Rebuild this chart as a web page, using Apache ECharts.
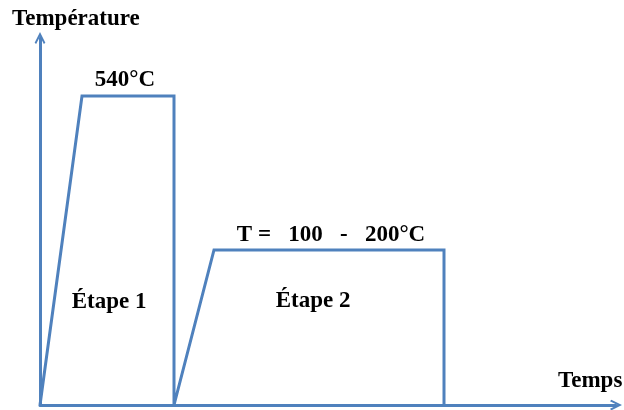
<!DOCTYPE html>
<html>
<head>
<meta charset="utf-8">
<script src="https://cdn.jsdelivr.net/npm/echarts@6/dist/echarts.min.js"></script>
<style>html,body{margin:0;padding:0;background:#fff}#c{width:624px;height:410px}</style>
</head>
<body>
<div id="c"></div>
<script>
// Schematic heat-treatment cycle (arbitrary units)
const time        = [0, 42, 134, 134, 174, 404, 404];
const temperature = [0, 309, 309, 0, 155, 155, 0];
const axisNames   = ['Température', 'Temps'];
const labels      = ['540°C', 'T =   100   -   200°C', 'Étape 1', 'Étape 2'];

const blue = '#4f81bd';
const font = 'bold 23px "Liberation Serif", "Times New Roman", serif';
const arrow = 'path://M0,10 L5,0 L10,10 L8.6,11.2 L5,4.2 L1.4,11.2 Z';

const chart = echarts.init(document.getElementById('c'), null, {renderer: 'canvas'});
chart.setOption({
  animation: false,
  grid: {left: 40, right: 8, top: 38, bottom: 5},
  xAxis: {
    type: 'value', min: 0, max: 576,
    splitLine: {show: false}, axisTick: {show: false}, axisLabel: {show: false},
    axisLine: {show: true, onZero: false, symbol: ['none', arrow], symbolSize: [13, 12],
      lineStyle: {color: blue, width: 3}}
  },
  yAxis: {
    type: 'value', min: 0, max: 367,
    splitLine: {show: false}, axisTick: {show: false}, axisLabel: {show: false},
    axisLine: {show: true, onZero: false, symbol: ['none', arrow], symbolSize: [13, 12],
      lineStyle: {color: blue, width: 3}}
  },
  series: [{
    type: 'line',
    data: time.map((t, i) => [t, temperature[i]]),
    showSymbol: false,
    lineStyle: {color: blue, width: 3, join: 'miter'},
    z: 3
  }],
  graphic: [
    {type: 'text', style: {text: axisNames[0], x: 12, y: 19, font: font, fill: '#000', align: 'left', verticalAlign: 'middle'}},
    {type: 'text', style: {text: axisNames[1], x: 558, y: 381, font: font, fill: '#000', align: 'left', verticalAlign: 'middle'}},
    {type: 'text', style: {text: labels[0], x: 125, y: 80, font: font, fill: '#000', align: 'center', verticalAlign: 'middle'}},
    {type: 'text', style: {text: labels[1], x: 331, y: 235, font: font, fill: '#000', align: 'center', verticalAlign: 'middle'}},
    {type: 'text', style: {text: labels[2], x: 109, y: 302, font: font, fill: '#000', align: 'center', verticalAlign: 'middle'}},
    {type: 'text', style: {text: labels[3], x: 313, y: 301, font: font, fill: '#000', align: 'center', verticalAlign: 'middle'}}
  ]
});
</script>
</body>
</html>
